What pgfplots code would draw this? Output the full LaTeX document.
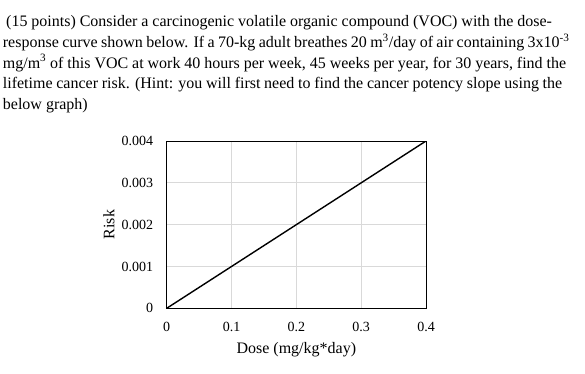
\documentclass[border=0pt]{standalone}
\usepackage{fontspec}
\setmainfont{Liberation Serif}
\usepackage{pgfplots}
\pgfplotsset{compat=1.18}
\begin{document}
\begin{tikzpicture}
\useasboundingbox (0pt,0pt) rectangle (585pt,373pt);
\begin{scope}[every node/.style={anchor=base west, inner sep=0pt, font=\fontsize{16}{19}\selectfont}]
\node at (6pt,346.5pt) {\makebox[545.7pt][s]{(15 points) Consider a carcinogenic volatile organic compound (VOC) with the dose-}};
\node at (2.7pt,325.7pt) {\makebox[566.6pt][s]{response curve shown below. If a 70-kg adult breathes 20 m\textsuperscript{3}/day of air containing 3x10\textsuperscript{-3}}};
\node at (2.7pt,304.9pt) {\makebox[563.3pt][s]{mg/m\textsuperscript{3} of this VOC at work 40 hours per week, 45 weeks per year, for 30 years, find the}};
\node at (2.7pt,284.1pt) {\makebox[559.3pt][s]{lifetime cancer risk. (Hint: you will first need to find the cancer potency slope using the}};
\node at (2.7pt,263.3pt) {below graph)};
\end{scope}
\begin{axis}[
  at={(166.7pt,64.7pt)}, anchor=south west, scale only axis,
  width=259.3pt, height=167.3pt,
  xmin=0, xmax=0.4, ymin=0, ymax=0.004,
  xtick={0,0.1,0.2,0.3,0.4},
  ytick={0,0.001,0.002,0.003,0.004},
  xticklabels={0,0.1,0.2,0.3,0.4},
  yticklabels={0,0.001,0.002,0.003,0.004},
  scaled x ticks=false, scaled y ticks=false,
  grid=major,
  grid style={draw=black!15, line width=0.9pt},
  axis line style={line width=1pt},
  tick style={draw=none},
  tick label style={font=\fontsize{14}{16}\selectfont},
  yticklabel style={anchor=east, inner sep=0pt, xshift=-13.4pt},
  xticklabel style={anchor=north, inner sep=0pt, yshift=-13.5pt},
  xlabel={Dose (mg/kg*day)},
  ylabel={Risk},
  label style={font=\fontsize{16}{19}\selectfont},
  xlabel style={at={(axis description cs:0.5,0)}, anchor=base, inner sep=0pt, yshift=-45pt},
  ylabel style={at={(axis description cs:0,0.5)}, anchor=center, inner sep=0pt, yshift=57.9pt},
]
\addplot[black, line width=1.4pt] coordinates {(0,0) (0.4,0.004)};
\end{axis}
\end{tikzpicture}
\end{document}
